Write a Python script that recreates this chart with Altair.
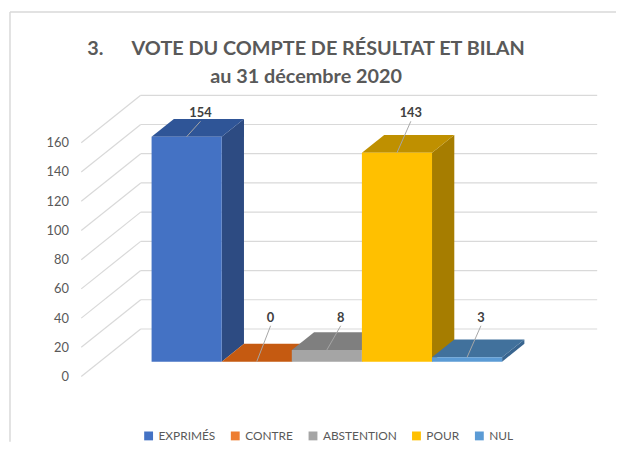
import altair as alt
import pandas as pd

# ---------------- data ----------------
categories = ["EXPRIMÉS", "CONTRE", "ABSTENTION", "POUR", "NUL"]
values = [154, 0, 8, 143, 3]
y_ticks = [0, 20, 40, 60, 80, 100, 120, 140, 160]
front_colors = ["#4472c4", "#ed7d31", "#a5a5a5", "#ffc000", "#5b9bd5"]
top_colors = ["#2f5597", "#c55a11", "#7f7f7f", "#bf9000", "#41719c"]
side_colors = ["#2d4b82", "#a64c0f", "#6e6e6e", "#a67d00", "#39658f"]

# ---------------- layout (pixels) ----------------
K = 1.475            # px per value unit
Y0_PX = 378          # image y of value 0 on the front (label) plane
PX0, PY0 = 10, 10    # plot origin on the page
W, H = 612, 434
Y_TOP = (Y0_PX - PY0) / K
Y_BOT = (Y0_PX - (PY0 + H)) / K
FLOOR_X = 82         # left edge of the floor at the label plane
WALL_DX, WALL_DY = 60, 48
WALL_RIGHT = 603
BAR_X0, BW = 153, 70.8
BAR_FRONT_DY = 15
BAR_DX, BAR_DY = 22.5, 18

FONT = "Lato"
GREY = "#595959"

xs = alt.Scale(domain=[PX0, PX0 + W], nice=False, zero=False)
ys = alt.Scale(domain=[Y_BOT, Y_TOP], nice=False, zero=False)
y_axis = alt.Axis(values=y_ticks, grid=False, domain=False, ticks=False, tickSize=0,
                  labelPadding=0, offset=-59, labelFont=FONT, labelFontSize=13,
                  labelColor=GREY, title=None)


def X(f):
    return alt.X(f, type="quantitative", scale=xs, axis=None)


def Y(f):
    return alt.Y(f, type="quantitative", scale=ys, axis=y_axis)


# ---------------- tables built from the lists ----------------
grid = pd.DataFrame({"v": y_ticks})
grid["x0"] = FLOOR_X
grid["x1"] = FLOOR_X + WALL_DX
grid["x2"] = WALL_RIGHT
grid["yb"] = grid["v"] + WALL_DY / K

bars = pd.DataFrame({"cat": categories, "value": values, "i": range(len(categories)),
                     "top_c": top_colors, "side_c": side_colors})
bars["left"] = BAR_X0 + bars["i"] * BW
bars["right"] = bars["left"] + BW
bars["cx"] = bars["left"] + BW / 2
bars["bot"] = BAR_FRONT_DY / K
bars["top"] = bars["bot"] + bars["value"]
vmax = max(values)
bars["lab_y"] = bars["bot"] + bars["value"].apply(lambda v: vmax + 16 if v > 50 else 30)
bars["lab_x"] = bars["cx"] + 14
bars["lead_y"] = bars["lab_y"] - 8 / K

side_rows, top_rows = [], []
for _, r in bars.iterrows():
    side_rows.append({"i": r["i"], "c": r["side_c"], "x": r["right"], "y": r["bot"], "y2": r["top"]})
    side_rows.append({"i": r["i"], "c": r["side_c"], "x": r["right"] + BAR_DX,
                      "y": r["bot"] + BAR_DY / K, "y2": r["top"] + BAR_DY / K})
    top_rows.append({"i": r["i"], "c": r["top_c"], "y": r["top"], "x": r["left"], "x2": r["right"]})
    top_rows.append({"i": r["i"], "c": r["top_c"], "y": r["top"] + BAR_DY / K,
                     "x": r["left"] + BAR_DX, "x2": r["right"] + BAR_DX})
sides = pd.DataFrame(side_rows)
tops = pd.DataFrame(top_rows)

# ---------------- layers ----------------
one = pd.DataFrame({"k": [0]})
border = alt.Chart(one).mark_rule(color="#d9d9d9", strokeWidth=1.5).encode(
    x=alt.value(0), x2=alt.value(W), y=alt.value(0)
) + alt.Chart(one).mark_rule(color="#d9d9d9", strokeWidth=1.5).encode(
    x=alt.value(0), y=alt.value(0), y2=alt.value(H)
)

diag = alt.Chart(grid).mark_rule(color="#d9d9d9", strokeWidth=1.2).encode(
    x=X("x0"), x2="x1", y=Y("v"), y2="yb",
)
wall = alt.Chart(grid).mark_rule(color="#d9d9d9", strokeWidth=1.2).encode(
    x=X("x1"), x2="x2", y=Y("yb")
)

side_layer = alt.Chart(sides).mark_area(interpolate="linear").encode(
    x=X("x"), y=Y("y"), y2="y2", detail="i:N", fill=alt.Fill("c:N", scale=None)
)
top_layer = alt.Chart(tops).mark_area(orient="horizontal", interpolate="linear").encode(
    y=Y("y"), x=X("x"), x2="x2", detail="i:N", fill=alt.Fill("c:N", scale=None)
)
front_layer = alt.Chart(bars).mark_rect().encode(
    x=X("left"), x2="right", y=Y("bot"), y2="top",
    color=alt.Color("cat:N", scale=alt.Scale(domain=categories, range=front_colors),
                    legend=alt.Legend(title=None, orient="none", direction="horizontal",
                                      legendX=134, legendY=422, symbolType="square",
                                      symbolSize=80, symbolStrokeWidth=0, labelFont=FONT,
                                      labelFontSize=12, labelColor=GREY, columnPadding=13.5,
                                      symbolOffset=0, padding=0)),
)
leaders = alt.Chart(bars).mark_rule(color="#a6a6a6", strokeWidth=1).encode(
    x=X("cx"), x2="lab_x", y=Y("top"), y2="lead_y"
)
labels = alt.Chart(bars).mark_text(font=FONT, fontSize=13, fontWeight="bold", color="#404040",
                                   baseline="middle").encode(
    x=X("lab_x"), y=Y("lab_y"), text="value:Q"
)

chart = alt.layer(border, diag, wall, side_layer, top_layer, front_layer, leaders, labels).properties(
    width=W, height=H,
    autosize=alt.AutoSizeParams(type="none"),
    padding={"left": 2, "top": 2, "right": 0, "bottom": 0},
    title=alt.TitleParams(
        text=["3." + "\u00a0" * 6 + "VOTE DU COMPTE DE RÉSULTAT ET BILAN", "au 31 décembre 2020"],
        anchor="middle", font=FONT, fontSize=20, fontWeight="bold", color=GREY,
        lineHeight=28, baseline="top", offset=-76, dx=-7, frame="group"),
).configure_view(stroke=None)

chart.save("out.html", embed_options={"renderer": "svg", "actions": False})
